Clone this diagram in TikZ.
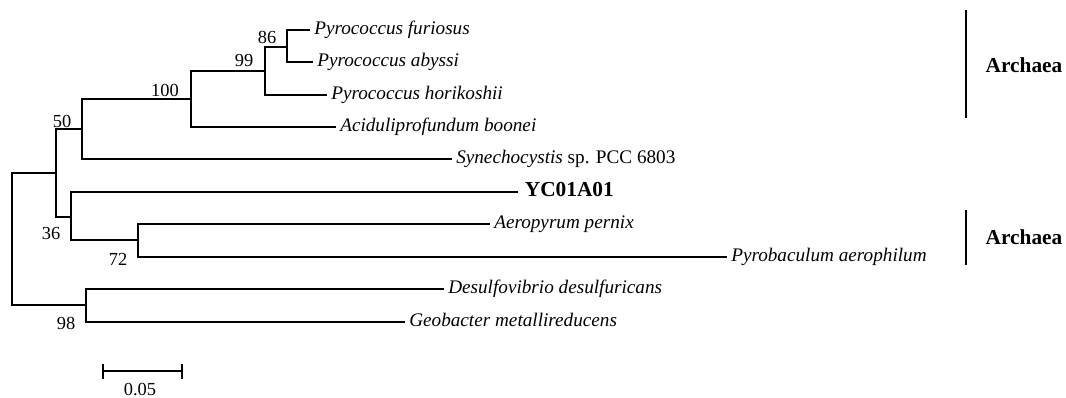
\documentclass[tikz,border=0pt]{standalone}
\usepackage{fontspec}
\setmainfont{Liberation Serif}
\begin{document}
\begin{tikzpicture}[x=0.75pt,y=-0.75pt,
  branch/.style={draw=black,line width=0.8pt},
  taxon/.style={anchor=west,inner xsep=3pt,inner ysep=0pt,text height=0.66em,text depth=0pt,font=\fontsize{14.4}{16}\selectfont\itshape},
  query/.style={anchor=west,inner xsep=5pt,inner ysep=0pt,text height=0.66em,text depth=0pt,font=\fontsize{16}{18}\selectfont\bfseries},
  boot/.style={inner sep=0pt,font=\fontsize{13.8}{15}\selectfont},
  group/.style={inner sep=0pt,font=\fontsize{16}{18}\selectfont\bfseries},
  groupbar/.style={line width=1.6pt}]
\useasboundingbox (0,0) rectangle (1066,398);

% internal nodes
\coordinate (root) at (12,239);
\coordinate (nA)   at (56,173);
\coordinate (n50)  at (82,129);
\coordinate (n100) at (191,99);
\coordinate (n99)  at (265,71);
\coordinate (n86)  at (287,47);
\coordinate (n36)  at (71,217);
\coordinate (n72)  at (138,240);
\coordinate (n98)  at (86,305);

% leaves
\node[taxon] (fur)  at (310,30)  {Pyrococcus furiosus};
\node[taxon] (aby)  at (313,62)  {Pyrococcus abyssi};
\node[taxon] (hor)  at (327,95)  {Pyrococcus horikoshii};
\node[taxon] (aci)  at (336,127) {Aciduliprofundum boonei};
\node[taxon] (syn)  at (452,159) {Synechocystis\/\upshape{} sp. PCC 6803};
\node[query] (yc)   at (518,192) {YC01A01};
\node[taxon] (aer)  at (490,224) {Aeropyrum pernix};
\node[taxon] (pyb)  at (727,257) {Pyrobaculum aerophilum};
\node[taxon] (des)  at (444,289) {Desulfovibrio desulfuricans};
\node[taxon] (geo)  at (405,322) {Geobacter metallireducens};

% branches
\draw[branch] (root) |- (nA);
\draw[branch] (root) |- (n98);
\draw[branch] (nA) |- (n50);
\draw[branch] (nA) |- (n36);
\draw[branch] (n50) |- (n100);
\draw[branch] (n50) |- (syn.west);
\draw[branch] (n100) |- (n99);
\draw[branch] (n100) |- (aci.west);
\draw[branch] (n99) |- (n86);
\draw[branch] (n99) |- (hor.west);
\draw[branch] (n86) |- (fur.west);
\draw[branch] (n86) |- (aby.west);
\draw[branch] (n36) |- (yc.west);
\draw[branch] (n36) |- (n72);
\draw[branch] (n72) |- (aer.west);
\draw[branch] (n72) |- (pyb.west);
\draw[branch] (n98) |- (des.west);
\draw[branch] (n98) |- (geo.west);

% bootstrap values
\node[boot] (b86)  at (267,37)  {86};
\node[boot] (b99)  at (244,61)  {99};
\node[boot] (b100) at (165,90)  {100};
\node[boot] (b50)  at (62,121)  {50};
\node[boot] (b36)  at (51,234)  {36};
\node[boot] (b72)  at (118,259) {72};
\node[boot] (b98)  at (66,323)  {98};

% scale bar
\coordinate (sbL) at (103,371);
\coordinate (sbR) at (182,371);
\draw[branch] (sbL) -- (sbR);
\draw[branch] (sbL) ++(0,-7) -- ++(0,15);
\draw[branch] (sbR) ++(0,-7) -- ++(0,15);
\node[boot] (sblab) at (140,390) {0.05};

% group bars
\coordinate (g1t) at (966,10);
\coordinate (g1b) at (966,118);
\coordinate (g2t) at (966,210);
\coordinate (g2b) at (966,265);
\draw[groupbar] (g1t) -- (g1b);
\draw[groupbar] (g2t) -- (g2b);
\node[group] (arch1) at (1024,65)  {Archaea};
\node[group] (arch2) at (1024,237) {Archaea};
\end{tikzpicture}
\end{document}
